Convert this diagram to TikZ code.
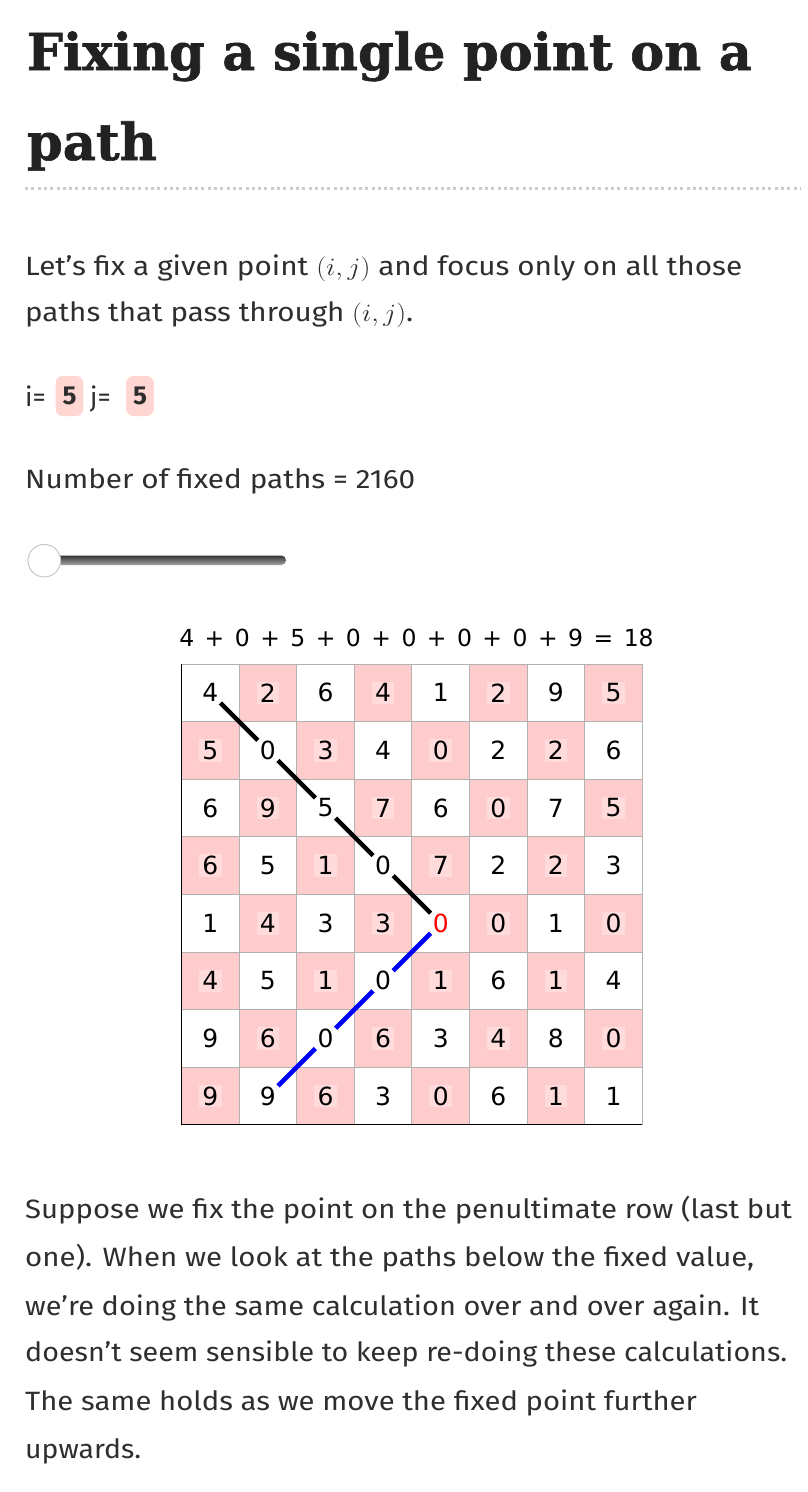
\documentclass[tikz,border=0pt]{standalone}
\usepackage{fontspec}
\usepackage{graphicx}
\setmainfont{Fira Sans}
\newfontfamily\headfont{DejaVu Serif}[BoldFeatures={FakeBold=1.2}]
\newfontfamily\cellfont{DejaVu Sans}
\newfontfamily\sumfont{DejaVu Sans}[WordSpace=1.4]
\definecolor{textgray}{HTML}{2E2E2E}
\definecolor{titlegray}{HTML}{222222}
\definecolor{cellpink}{RGB}{255,204,206}
\definecolor{boxpink}{RGB}{255,214,210}
\definecolor{rulegray}{RGB}{204,204,204}
\newcommand{\fitline}[2]{\resizebox{#1pt}{\height}{#2}}

\begin{document}
\begin{tikzpicture}
[x=1pt, y=-1pt,
body/.style={anchor=base west, inner sep=0pt, text=textgray, font=\fontsize{26.5}{30}\selectfont},
headline/.style={anchor=base west, inner sep=0pt, text=titlegray, font=\headfont\bfseries\fontsize{51}{60}\selectfont},
numbox/.style={rectangle, rounded corners=7pt, fill=boxpink, minimum width=27.6pt, minimum height=40pt, inner sep=0pt, text=textgray, font=\bfseries\fontsize{26}{30}\selectfont},
digit/.style={rectangle, inner sep=0pt, minimum size=22.6pt, fill=white, fill opacity=0.3, text opacity=1, font=\cellfont\fontsize{25}{30}\selectfont},
pathline/.style={line width=4.5pt, shorten <=-2pt, shorten >=-2pt}]

\fill[white] (0,0) rectangle (808,1492);
\useasboundingbox (0,0) rectangle (808,1492);

% heading
\node[headline] (title1) at (26.7,70) {\fitline{725}{Fixing a single point on a}};
\node[headline] (title2) at (26.7,160) {\fitline{130}{path}};
\draw[rulegray, line width=3pt, dash pattern=on 3pt off 3.3pt] (25,188.3) -- (800,188.3);

\node[body] (intro1) at (25,275) {\fitline{717}{Let's fix a given point $(i,j)$ and focus only on all those}};
\node[body] (intro2) at (25,321.7) {\fitline{388}{paths that pass through $(i,j)$.}};

% controls
\node[body] (ilabel) at (25,406.7) {i=};
\node[numbox] (ival) at (69.5,396) {5};
\node[body] (jlabel) at (90,406.7) {j=};
\node[numbox] (jval) at (140,396) {5};
\node[body] (count) at (25,488.3) {\fitline{390}{Number of fixed paths = 2160}};

\shade[top color=black!80, bottom color=black!35, rounded corners=4.7pt] (30,555.5) rectangle (286,565);
\node[circle, draw=black!22, line width=1pt, fill=white, minimum size=32.6pt, inner sep=0pt] (knob) at (44.3,560.7) {};

% grid
\node[anchor=base, inner sep=0pt, font=\sumfont\fontsize{23.5}{28}\selectfont] (sum) at (416.5,646.7) {4 + 0 + 5 + 0 + 0 + 0 + 0 + 9 = 18};

\foreach \r in {0,...,7}
  \foreach \c in {0,...,7}
    {\ifodd\numexpr\r+\c\relax
      \fill[cellpink] (181.5+57.6*\c,664+57.6*\r) rectangle ++(57.6,57.6);
    \fi}
\foreach \k in {0,...,8} {
  \draw[black!30, line width=1pt] (181.5+57.6*\k,664) -- (181.5+57.6*\k,1124.8);
  \draw[black!30, line width=1pt] (181.5,664+57.6*\k) -- (642.3,664+57.6*\k);
}
\draw[black, line width=1.2pt] (181.5,664) -- (181.5,1124.8) -- (642.3,1124.8);

\foreach \vals [count=\r from 0] in {{4,2,6,4,1,2,9,5},{5,0,3,4,0,2,2,6},{6,9,5,7,6,0,7,5},{6,5,1,0,7,2,2,3},
  {1,4,3,3,0,0,1,0},{4,5,1,0,1,6,1,4},{9,6,0,6,3,4,8,0},{9,9,6,3,0,6,1,1}}
  \foreach \v [count=\c from 0] in \vals {
    \def\dcol{black}\ifnum\r\c=44 \def\dcol{red}\fi
    \node[digit, text=\dcol] (v\r\c) at (210.3+57.6*\c,692.8+57.6*\r) {\v};
  }

\foreach \a/\b in {00/11,11/22,22/33,33/44}
  \draw[pathline] (v\a) -- (v\b);
\foreach \a/\b in {44/53,53/62,62/71}
  \draw[pathline, blue] (v\a) -- (v\b);

% closing text
\node[body] (para1) at (25,1218.3) {\fitline{766.7}{Suppose we fix the point on the penultimate row (last but}};
\node[body] (para2) at (25,1266.7) {\fitline{729}{one). When we look at the paths below the fixed value,}};
\node[body] (para3) at (25,1315) {\fitline{734}{we're doing the same calculation over and over again. It}};
\node[body] (para4) at (25,1361.7) {\fitline{762}{doesn't seem sensible to keep re-doing these calculations.}};
\node[body] (para5) at (25,1410) {\fitline{671.7}{The same holds as we move the fixed point further}};
\node[body] (para6) at (25,1458) {\fitline{116}{upwards.}};
\end{tikzpicture}
\end{document}
